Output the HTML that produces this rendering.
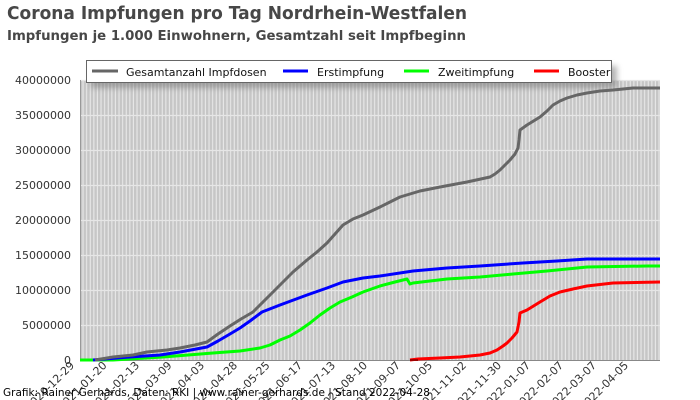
<!DOCTYPE html>
<html>
<head>
<meta charset="utf-8">
<style>
html,body{margin:0;padding:0;background:#fff;}
svg{display:block;}
text{font-family:"DejaVu Sans","Liberation Sans",sans-serif;}
</style>
</head>
<body>
<svg width="700" height="400" viewBox="0 0 700 400" xmlns="http://www.w3.org/2000/svg">
  <defs>
    <pattern id="stripes" x="80" y="0" width="3.6" height="10" patternUnits="userSpaceOnUse">
      <rect x="0" y="0" width="3.6" height="10" fill="#e8e8e8"/>
      <rect x="0" y="0" width="2.5" height="10" fill="#c6c6c6"/>
    </pattern>
    <filter id="blur" x="-10%" y="-50%" width="120%" height="200%">
      <feGaussianBlur stdDeviation="3"/>
    </filter>
  </defs>

  <rect width="700" height="400" fill="#fff"/>

  <!-- Titles -->
  <text x="7" y="19" font-size="17.5" font-weight="bold" fill="#474747" textLength="460" lengthAdjust="spacingAndGlyphs">Corona Impfungen pro Tag Nordrhein-Westfalen</text>
  <text x="7" y="40" font-size="13" font-weight="bold" fill="#474747" textLength="459" lengthAdjust="spacingAndGlyphs">Impfungen je 1.000 Einwohnern, Gesamtzahl seit Impfbeginn</text>

  <!-- Plot background -->
  <rect x="80" y="80" width="580" height="280" fill="url(#stripes)"/>
  <g stroke="#e6e6e6" stroke-width="1.2">
    <line x1="80" y1="80.5" x2="660" y2="80.5"/>
    <line x1="80" y1="115.5" x2="660" y2="115.5"/>
    <line x1="80" y1="150.5" x2="660" y2="150.5"/>
    <line x1="80" y1="185.5" x2="660" y2="185.5"/>
    <line x1="80" y1="220.5" x2="660" y2="220.5"/>
    <line x1="80" y1="255.5" x2="660" y2="255.5"/>
    <line x1="80" y1="290.5" x2="660" y2="290.5"/>
    <line x1="80" y1="325.5" x2="660" y2="325.5"/>
  </g>
  <line x1="80.5" y1="80" x2="80.5" y2="360" stroke="#999" stroke-width="1"/>
  <line x1="80" y1="360.5" x2="660" y2="360.5" stroke="#888" stroke-width="1"/>

  <!-- Y labels -->
  <g font-size="11" fill="#333" text-anchor="end">
    <text x="71" y="84">40000000</text>
    <text x="71" y="119">35000000</text>
    <text x="71" y="154">30000000</text>
    <text x="71" y="189">25000000</text>
    <text x="71" y="224">20000000</text>
    <text x="71" y="259">15000000</text>
    <text x="71" y="294">10000000</text>
    <text x="71" y="329">5000000</text>
    <text x="71" y="364">0</text>
  </g>

  <!-- Series -->
  <g fill="none" stroke-width="3" stroke-linejoin="round" stroke-linecap="butt">
    <polyline stroke="#00ff00" points="80,360 113,360 163,357 213,353 240,351 260,348 270,345 280,340 290,336 300,330 310,323 320,315 330,308 340,302 352,297 363,292 380,286 395,282 407,279 410,284 413,283 447,279 480,277 513,274 547,271 587,267 647,266 660,266"/>
    <polyline stroke="#0000ff" points="93,360 130,357 160,355 180,352 207,347 218,341 230,334 240,328 250,321 262,312 280,305 307,295 327,288 343,282 363,278 380,276 413,271 447,268 480,266 523,263 557,261 587,259 660,259"/>
    <polyline stroke="#ff0000" points="410,360 418,359 440,358 460,357 480,355 490,353 497,350 503,346 507,343 512,338 517,332 519,322 520,313 527,310 540,302 550,296 560,292 573,289 587,286 613,283 660,282"/>
    <polyline stroke="#666666" points="95,360 113,357 133,355 147,352 167,350 180,348 195,345 207,342 218,334 230,326 241,319 253,312 266,299 280,285 293,272 307,260 317,252 327,243 335,234 343,225 353,219 363,215 380,207 390,202 400,197 420,191 440,187 467,182 490,177 495,174 500,170 505,165 510,160 515,154 518,148 519,140 520,130 527,125 540,117 547,111 553,105 560,101 567,98 577,95 587,93 600,91 613,90 633,88 660,88"/>
  </g>
  <line x1="410" y1="360" x2="418" y2="360" stroke="#a00000" stroke-width="2"/>

  <!-- Legend -->
  <rect x="91" y="66" width="526" height="22" fill="#777" opacity="0.55" filter="url(#blur)"/>
  <rect x="86.5" y="60.5" width="525" height="22" fill="#fff" stroke="#666" stroke-width="1"/>
  <g stroke-width="3">
    <line x1="92" y1="71" x2="118" y2="71" stroke="#666666"/>
    <line x1="283" y1="71" x2="308" y2="71" stroke="#0000ff"/>
    <line x1="404" y1="71" x2="429" y2="71" stroke="#00ff00"/>
    <line x1="534" y1="71" x2="559" y2="71" stroke="#ff0000"/>
  </g>
  <g font-size="11" fill="#111">
    <text x="126" y="76">Gesamtanzahl Impfdosen</text>
    <text x="317" y="76">Erstimpfung</text>
    <text x="438" y="76">Zweitimpfung</text>
    <text x="568" y="76">Booster</text>
  </g>

  <!-- X labels -->
  <g font-size="11" fill="#333" text-anchor="end">
    <text x="75" y="366" transform="rotate(-45 75 366)">2020-12-29</text>
    <text x="107.5" y="366" transform="rotate(-45 107.5 366)">2021-01-20</text>
    <text x="140" y="366" transform="rotate(-45 140 366)">2021-02-13</text>
    <text x="172.5" y="366" transform="rotate(-45 172.5 366)">2021-03-09</text>
    <text x="205" y="366" transform="rotate(-45 205 366)">2021-04-03</text>
    <text x="238" y="366" transform="rotate(-45 238 366)">2021-04-28</text>
    <text x="270.5" y="366" transform="rotate(-45 270.5 366)">2021-05-25</text>
    <text x="303" y="366" transform="rotate(-45 303 366)">2021-06-17</text>
    <text x="336" y="366" transform="rotate(-45 336 366)">2021-07-13</text>
    <text x="368" y="366" transform="rotate(-45 368 366)">2021-08-10</text>
    <text x="401" y="366" transform="rotate(-45 401 366)">2021-09-07</text>
    <text x="433" y="366" transform="rotate(-45 433 366)">2021-10-05</text>
    <text x="467" y="366" transform="rotate(-45 467 366)">2021-11-02</text>
    <text x="502" y="366" transform="rotate(-45 502 366)">2021-11-30</text>
    <text x="531" y="366" transform="rotate(-45 531 366)">2022-01-07</text>
    <text x="564" y="366" transform="rotate(-45 564 366)">2022-02-07</text>
    <text x="597" y="366" transform="rotate(-45 597 366)">2022-03-07</text>
    <text x="629" y="366" transform="rotate(-45 629 366)">2022-04-05</text>
  </g>

  <!-- Footer -->
  <text x="3" y="396" font-size="11" fill="#000" textLength="427" lengthAdjust="spacingAndGlyphs">Grafik: Rainer Gerhards, Daten: RKI | www.rainer-gerhards.de | Stand 2022-04-28</text>
</svg>
</body>
</html>
